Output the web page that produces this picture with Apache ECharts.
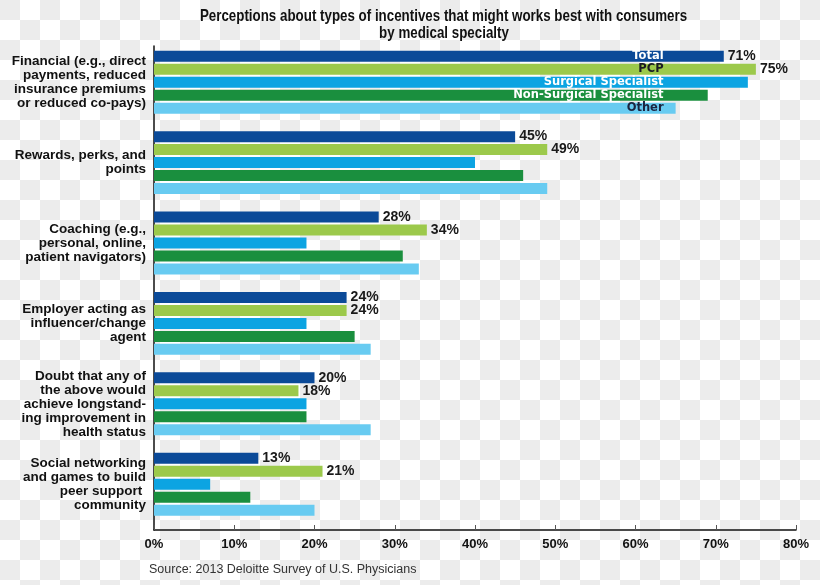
<!DOCTYPE html>
<html>
<head>
<meta charset="utf-8">
<script src="https://cdn.jsdelivr.net/npm/echarts@6/dist/echarts.min.js"></script>
<style>
  html, body { margin: 0; padding: 0; }
  #chart {
    width: 820px; height: 585px;
    background: repeating-conic-gradient(#ffffff 0 25%, #ececec 0 50%) 0 0 / 40px 40px;
  }
</style>
</head>
<body>
<div id="chart"></div>
<script>
// ---- data ----
const categories = [
  'Financial (e.g., direct\npayments, reduced\ninsurance premiums\nor reduced co-pays)',
  'Rewards, perks, and\npoints',
  'Coaching (e.g.,\npersonal, online,\npatient navigators)',
  'Employer acting as\ninfluencer/change\nagent',
  'Doubt that any of\nthe above would\nachieve longstand-\ning improvement in\nhealth status',
  'Social networking\nand games to build\npeer support \ncommunity'
];
const seriesNames = ['Total', 'PCP', 'Surgical Specialist', 'Non-Surgical Specialist', 'Other'];
const total       = [71, 45, 28, 24, 20, 13];
const pcp         = [75, 49, 34, 24, 18, 21];
const surgical    = [74, 40, 19, 19, 19, 7];
const nonSurgical = [69, 46, 31, 25, 19, 12];
const other       = [65, 49, 33, 27, 27, 20];
const xTickValues = [0, 10, 20, 30, 40, 50, 60, 70, 80];
const titleLines = ['Perceptions about types of incentives that might works best with consumers', 'by medical specialty'];
const sourceText = 'Source: 2013 Deloitte Survey of U.S. Physicians';

// ---- style ----
const colors = ['#0b4a98', '#9cc94b', '#0ca4e2', '#1a8f3e', '#68cbf1'];
const nameLabelColors = ['#ffffff', '#1b1b24', '#ffffff', '#ffffff', '#1b2440'];
const valueLabeled = [true, true, false, false, false];
const NAME_ANCHOR = 63.5; // where the in-bar legend names end (axis units)
const allValues = [total, pcp, surgical, nonSurgical, other];

const chart = echarts.init(document.getElementById('chart'), null, { renderer: 'canvas' });

const BAR_W = 11, BAR_GAP = '18%';

const mainSeries = seriesNames.map((name, i) => ({
  name,
  type: 'bar',
  xAxisIndex: 0,
  yAxisIndex: 0,
  data: allValues[i],
  barWidth: BAR_W,
  barGap: BAR_GAP,
  itemStyle: { color: colors[i] },
  label: {
    show: valueLabeled[i],
    position: 'right',
    distance: 4,
    formatter: '{c}%',
    fontFamily: 'Liberation Sans, Arial, sans-serif',
    fontWeight: 'bold',
    fontSize: 14,
    color: '#1a1a1a'
  },
  animation: false
}));

const nameSeries = seriesNames.map((name, i) => ({
  name: name + '_label',
  type: 'bar',
  xAxisIndex: 0,
  yAxisIndex: 1,
  data: categories.map((c, k) => k === 0 ? NAME_ANCHOR : '-'),
  barWidth: BAR_W,
  barGap: BAR_GAP,
  silent: true,
  itemStyle: { color: 'rgba(0,0,0,0)' },
  label: {
    show: true,
    position: 'insideRight',
    distance: 0,
    formatter: name,
    fontFamily: 'DejaVu Sans, sans-serif',
    fontWeight: 'bold',
    fontSize: 11.5,
    color: nameLabelColors[i]
  },
  animation: false
}));

const titleFont = 'bold 17px "Liberation Sans", Arial, sans-serif';

const option = {
  animation: false,
  grid: [
    { left: 154, right: 24, top: 42, height: 482.4, containLabel: false },
    { left: 154, right: 24, top: 46, bottom: 55, containLabel: false }
  ],
  xAxis: [
    { type: 'value', gridIndex: 0, min: 0, max: 80, interval: 10, show: false },
    {
      type: 'value', gridIndex: 1, min: 0, max: 80, interval: 10,
      axisLine: { show: true, lineStyle: { color: '#111111', width: 1.5 } },
      axisTick: { show: true, inside: true, length: 5, lineStyle: { color: '#555555' } },
      splitLine: { show: false },
      axisLabel: {
        margin: 8,
        formatter: v => xTickValues.includes(v) ? v + '%' : '',
        fontFamily: 'Liberation Sans, Arial, sans-serif',
        fontWeight: 'bold',
        fontSize: 13,
        color: '#111111'
      }
    }
  ],
  yAxis: [
    {
      type: 'category', gridIndex: 0, data: categories, inverse: true,
      axisLine: { show: false }, axisTick: { show: false },
      axisLabel: {
        margin: 8,
        align: 'right',
        fontFamily: 'Liberation Sans, Arial, sans-serif',
        fontWeight: 'bold',
        fontSize: 13.5,
        lineHeight: 14,
        color: '#111111'
      }
    },
    {
      type: 'category', gridIndex: 0, data: categories, inverse: true, show: false
    },
    {
      type: 'value', gridIndex: 1, min: 0, max: 1,
      axisLine: { show: true, lineStyle: { color: '#111111', width: 1.5 } },
      axisTick: { show: false }, axisLabel: { show: false }, splitLine: { show: false }
    }
  ],
  graphic: [
    {
      type: 'text',
      x: 443.5, y: 8, scaleX: 0.785,
      style: { text: titleLines[0], font: titleFont, fill: '#111111', textAlign: 'center', textVerticalAlign: 'top' }
    },
    {
      type: 'text',
      x: 444, y: 25, scaleX: 0.785,
      style: { text: titleLines[1], font: titleFont, fill: '#111111', textAlign: 'center', textVerticalAlign: 'top' }
    },
    {
      type: 'text',
      left: 149,
      top: 563,
      style: {
        text: sourceText,
        font: '12.5px "Liberation Sans", Arial, sans-serif',
        fill: '#333333'
      }
    }
  ],
  series: mainSeries.concat(nameSeries)
};

chart.setOption(option);
</script>
</body>
</html>
